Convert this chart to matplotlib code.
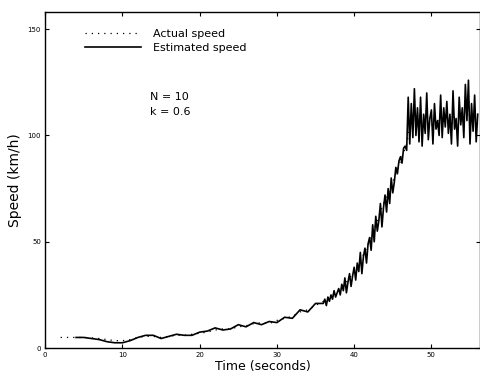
import numpy as np
import matplotlib
matplotlib.use("Agg")
import matplotlib.pyplot as plt

# coarse part of the run (1 s samples)
t_coarse_actual = [2, 3, 4, 5, 6, 7, 8, 9, 10, 11, 12, 13, 14, 15, 16, 17, 18, 19,
                   20, 21, 22, 23, 24, 25, 26, 27, 28, 29, 30, 31, 32, 33, 34, 35]
v_coarse_actual = [5, 5, 5, 5, 4.8, 4.5, 4, 3.5, 3.5, 4, 5, 5.5, 5.5, 5, 5.5, 6, 6, 6.5,
                   7, 7.5, 8.5, 9, 9, 10, 10.5, 11.5, 12, 11.5, 13, 14, 15, 17, 18, 20]

t_coarse_est = [4, 5, 6, 7, 8, 9, 10, 11, 12, 13, 14, 15, 16, 17, 18, 19,
                20, 21, 22, 23, 24, 25, 26, 27, 28, 29, 30, 31, 32, 33, 34, 35]
v_coarse_est = [5, 5, 4.5, 4, 3, 2.5, 2.5, 3.5, 5, 6, 6, 4.5, 5.5, 6.5, 6, 6,
                7.5, 8, 9.5, 8.5, 9, 11, 10, 12, 11, 12.5, 12, 14.5, 14, 18, 17, 21]

# fine part of the run (0.2 s samples, 36 s .. 56 s)
t_fine = np.round(np.arange(36.0, 56.01, 0.2), 1)

v_fine_actual = [22, 22.5, 23, 23.5, 24, 24.5, 25, 25.5, 26, 26.5,
                 27, 28, 29, 29.5, 30, 31, 32, 33, 34, 35,
                 36, 37, 38.5, 40, 41, 42.5, 44, 45.5, 47, 48.5,
                 50, 52, 54, 56, 58, 60, 62, 64, 66, 68,
                 70, 71.5, 73, 74.5, 76, 78, 80, 82, 84, 86,
                 88, 90, 92, 94, 96, 100, 104, 108, 105, 110,
                 106, 104, 108, 112, 103, 105, 109, 113, 104, 106,
                 108, 102, 110, 105, 104, 107, 112, 103, 108, 106,
                 110, 104, 107, 100, 113, 106, 104, 101, 111, 107,
                 109, 103, 116, 110, 119, 103, 110, 105, 113, 102,
                 106]

v_fine_est = [21, 23, 20, 24, 22, 25, 23, 27, 24, 26,
              28, 25, 30, 27, 33, 26, 31, 35, 29, 34,
              38, 32, 40, 36, 45, 35, 43, 47, 40, 49,
              52, 46, 58, 50, 62, 55, 60, 68, 57, 66,
              72, 64, 75, 68, 80, 73, 78, 85, 82, 88,
              90, 87, 94, 95, 93, 118, 96, 115, 99, 122,
              100, 113, 97, 118, 95, 110, 101, 120, 98, 108,
              112, 96, 115, 103, 107, 100, 119, 99, 113, 104,
              116, 101, 110, 96, 121, 103, 108, 95, 118, 105,
              113, 99, 124, 107, 126, 96, 115, 102, 119, 97,
              110]

x_ticks = [0, 10, 20, 30, 40, 50]
y_ticks = [0, 50, 100, 150]

t_actual = np.concatenate([t_coarse_actual, t_fine])
v_actual = np.concatenate([v_coarse_actual, v_fine_actual])
t_est = np.concatenate([t_coarse_est, t_fine])
v_est = np.concatenate([v_coarse_est, v_fine_est])

fig = plt.figure(figsize=(4.81, 3.8), dpi=100)
ax = fig.add_axes([0.094, 0.084, 0.904, 0.884])

ax.plot(t_actual, v_actual, color='black', lw=0.9, linestyle=(0, (1, 4)), label='Actual speed')
ax.plot(t_est, v_est, color='black', lw=1.2, label='Estimated speed')

ax.set_xlim(0, 56.3)
ax.set_ylim(0, 158)
ax.set_xticks(x_ticks)
ax.set_yticks(y_ticks)
ax.tick_params(direction='in', length=3, width=0.8, labelsize=5,
               top=True, right=True, pad=3)
for s in ax.spines.values():
    s.set_linewidth(1.0)

ax.set_xlabel('Time (seconds)', fontsize=9, labelpad=1)
ax.set_ylabel('Speed (km/h)', fontsize=10, labelpad=4)

ax.legend(loc='upper left', bbox_to_anchor=(0.092, 0.95), frameon=False,
          fontsize=8, handlelength=5, handletextpad=1.1, labelspacing=0.35,
          borderpad=0, borderaxespad=0)

ax.text(0.241, 0.747, 'N = 10', transform=ax.transAxes, fontsize=8, va='center')
ax.text(0.241, 0.702, 'k = 0.6', transform=ax.transAxes, fontsize=8, va='center')

fig.savefig('out.png', dpi=100)
